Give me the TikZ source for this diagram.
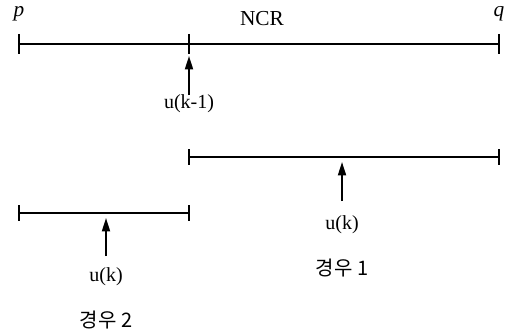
\documentclass[tikz,border=0pt]{standalone}
\usepackage{fontspec}
\setmainfont{Liberation Serif}
\newfontfamily\kr{Noto Sans CJK KR}
\usetikzlibrary{arrows.meta}
\begin{document}
\begin{tikzpicture}[x=0.75pt,y=-0.75pt,
  seg/.style={line width=1.3pt},
  tickmark/.style={line width=1.3pt},
  uparrow/.style={line width=1.3pt,-{Triangle[length=10pt,width=6pt]}},
  lbl/.style={font=\fontsize{15}{17}\selectfont,inner sep=0pt},
  krlbl/.style={font=\fontsize{15}{17}\selectfont\kr,inner sep=0pt}]
\useasboundingbox (0,0) rectangle (509,335);
% top line
\coordinate (P) at (19,44);
\coordinate (M) at (189,44);
\coordinate (Q) at (499,44);
\draw[seg] (P) -- (Q);
\foreach \c in {P,M,Q} \draw[tickmark] ([yshift=7.5pt]\c) -- ([yshift=-7.5pt]\c);
\node[lbl,font=\fontsize{16}{18}\selectfont\itshape] (p) at (19,14) {p};
\node[lbl,font=\fontsize{16}{18}\selectfont\itshape] (q) at (499,14) {q};
\node[lbl,font=\fontsize{16}{18}\selectfont] (ncr) at (262,19) {NCR};
\coordinate (a0b) at (189,95);
\coordinate (a0t) at (189,56);
\draw[uparrow] (a0b) -- (a0t);
\node[lbl] (u0) at (189,104) {u(k-1)};
% case 1 line
\coordinate (C1a) at (189,157);
\coordinate (C1b) at (499,157);
\draw[seg] (C1a) -- (C1b);
\foreach \c in {C1a,C1b} \draw[tickmark] ([yshift=6pt]\c) -- ([yshift=-6pt]\c);
\coordinate (a1b) at (342,201);
\coordinate (a1t) at (342,162);
\draw[uparrow] (a1b) -- (a1t);
\node[lbl] (u1) at (342,225) {u(k)};
\node[krlbl] (k1) at (342,268) {경우 1};
% case 2 line
\coordinate (C2a) at (19,213);
\coordinate (C2b) at (189,213);
\draw[seg] (C2a) -- (C2b);
\foreach \c in {C2a,C2b} \draw[tickmark] ([yshift=6pt]\c) -- ([yshift=-6pt]\c);
\coordinate (a2b) at (106,256);
\coordinate (a2t) at (106,218);
\draw[uparrow] (a2b) -- (a2t);
\node[lbl] (u2) at (106,277) {u(k)};
\node[krlbl] (k2) at (106,320) {경우 2};
\end{tikzpicture}
\end{document}
